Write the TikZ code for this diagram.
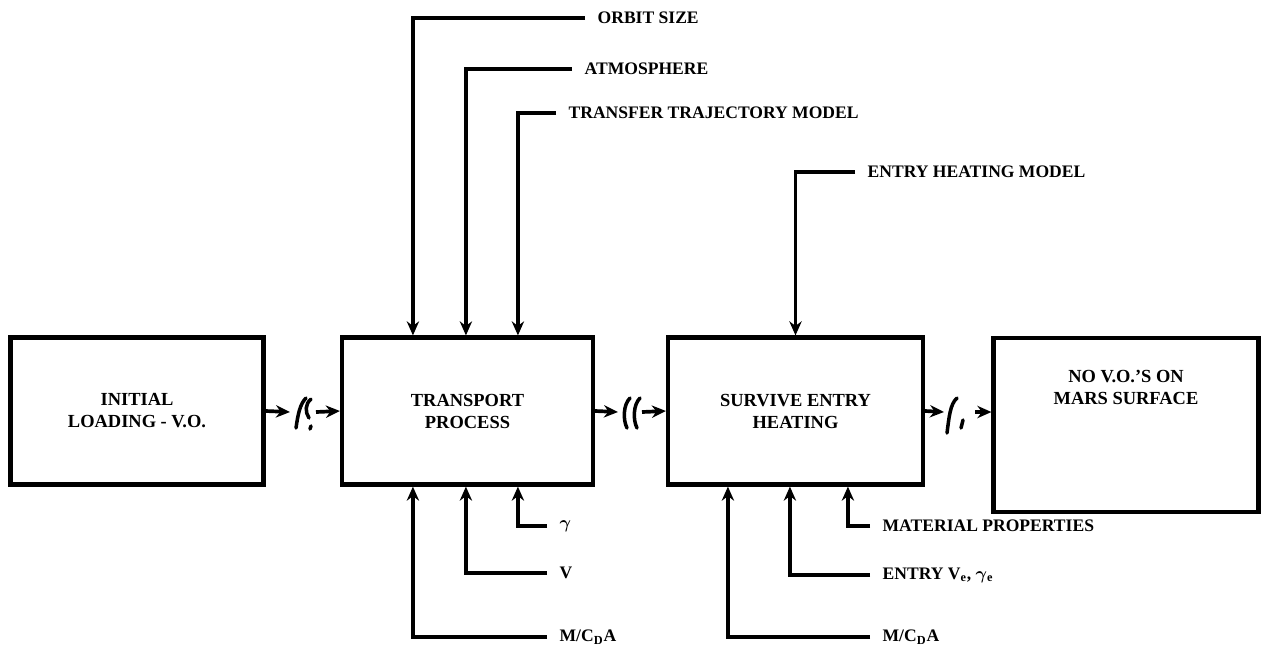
\documentclass[tikz,border=0pt]{standalone}
\usepackage{fontspec}
\setmainfont{Liberation Serif}
\usepackage{amsmath}
\usetikzlibrary{arrows.meta,calc}
\begin{document}
\begin{tikzpicture}[x=0.02cm,y=-0.02cm,
  ln/.style={line width=2.1pt},
  arr/.style={ln,-{Stealth[length=8pt,width=7pt]}},
  brk/.style={line width=2pt,line cap=round},
  blk/.style={draw,line width=2.4pt,inner sep=0pt,align=center,minimum height=2.94cm,font=\bfseries\fontsize{10.5}{12.5}\selectfont},
  txt/.style={align=center,inner sep=0pt,font=\bfseries\fontsize{10.5}{12.5}\selectfont},
  lab/.style={anchor=west,inner sep=0pt,inner xsep=7pt,font=\bfseries\fontsize{10}{12}\selectfont}]
\useasboundingbox (0,0) rectangle (1264,667);
% boxes
\node[blk,minimum width=5.06cm] (b1) at (137,411) {INITIAL\\LOADING - V.O.};
\node[blk,minimum width=5.02cm] (b2) at (467.5,411) {TRANSPORT\\PROCESS};
\node[blk,minimum width=5.1cm] (b3) at (795.5,411) {SURVIVE ENTRY\\HEATING};
\node[blk,minimum width=5.3cm,minimum height=3.48cm] (b4) at (1126,425) {};
\node[txt] (b4t) at (1126,387) {NO V.O.'S ON\\MARS SURFACE};
% top inputs
\node[lab] (orbit) at (585,18) {ORBIT SIZE};
\node[lab] (atm) at (572,69) {ATMOSPHERE};
\node[lab] (ttm) at (556,113) {TRANSFER TRAJECTORY MODEL};
\node[lab] (ehm) at (855,172) {ENTRY HEATING MODEL};
\draw[arr] (orbit.west) -| ($(b2.north west)+(73,0)$);
\draw[arr] (atm.west) -| ($(b2.north west)+(126,0)$);
\draw[arr] (ttm.west) -| ($(b2.north west)+(178,0)$);
\draw[arr] (ehm.west) -| (b3.north);
% bottom inputs
\node[lab] (gam) at (547,526) {$\boldsymbol{\gamma}$};
\node[lab] (vv) at (547,573) {V};
\node[lab] (mc1) at (547,637) {M/C\textsubscript{D}A};
\draw[arr] (gam.west) -| ($(b2.south west)+(178,0)$);
\draw[arr] (vv.west) -| ($(b2.south west)+(126,0)$);
\draw[arr] (mc1.west) -| ($(b2.south west)+(73,0)$);
\node[lab] (mat) at (870,526) {MATERIAL PROPERTIES};
\node[lab] (entry) at (870,575) {ENTRY V\textsubscript{e}, $\boldsymbol{\gamma}$\textsubscript{e}};
\node[lab] (mc2) at (870,637) {M/C\textsubscript{D}A};
\draw[arr] (mat.west) -| ($(b3.south west)+(182,0)$);
\draw[arr] (entry.west) -| ($(b3.south west)+(124,0)$);
\draw[arr] (mc2.west) -| ($(b3.south west)+(62,0)$);
% broken flow connectors
\coordinate (k1a) at (290,412);
\coordinate (k1b) at (316,412);
\draw[arr] (b1.east) -- (k1a);
\draw[arr] (k1b) -- (b2.west);
\draw[brk] (296,428) .. controls (298,414) and (300,404) .. (306,398);
\draw[brk] (311,399) .. controls (305,404) and (305,412) .. (309,418);
\draw[brk] (311,426) -- (310,429);
\coordinate (k2a) at (618,412);
\coordinate (k2b) at (642,412);
\draw[arr] (b2.east) -- (k2a);
\draw[arr] (k2b) -- (b3.west);
\draw[brk] (630,398) .. controls (623,405) and (623,420) .. (627,428);
\draw[brk] (640,398) .. controls (633,405) and (633,420) .. (637,428);
\coordinate (k3a) at (944,412);
\coordinate (k3b) at (975,412);
\draw[arr] (b3.east) -- (k3a);
\draw[arr] (k3b) -- (k3b -| b4.west);
\draw[brk] (947,433) .. controls (949,418) and (950,404) .. (957,398);
\draw[brk] (963,420) -- (961,428);
\end{tikzpicture}
\end{document}
